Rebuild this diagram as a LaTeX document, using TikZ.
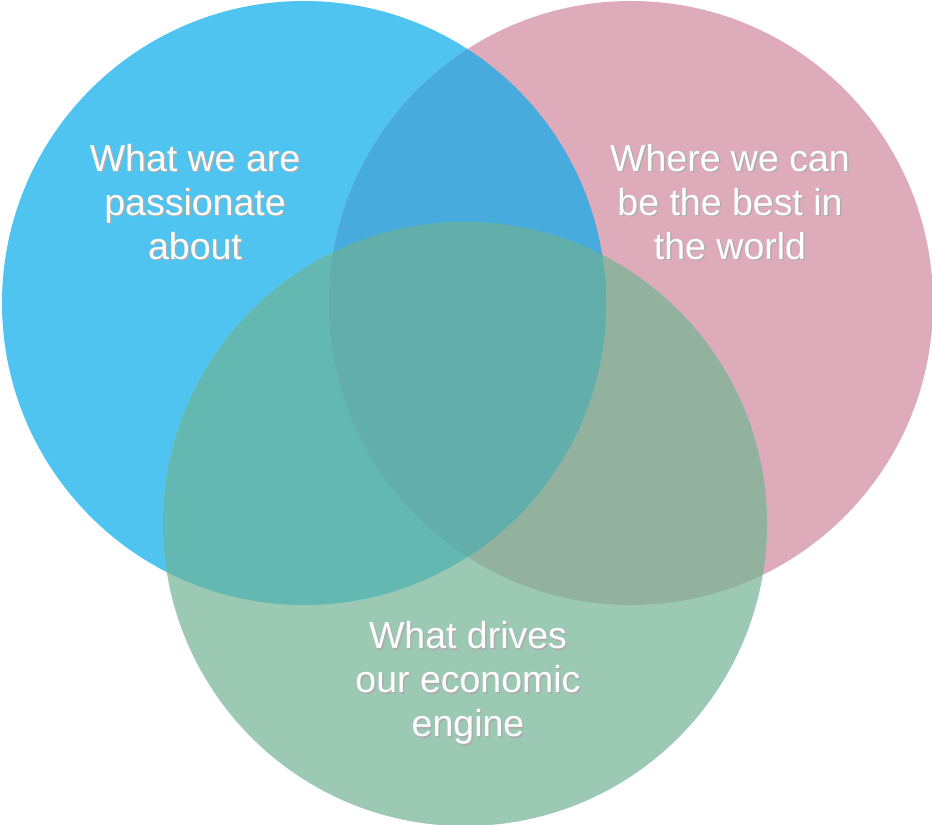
\documentclass[tikz,border=0pt]{standalone}
\usepackage{fontspec}
\setmainfont{Liberation Sans}
\definecolor{cblue}{HTML}{4FC4F0}
\definecolor{cpink}{HTML}{DEABBA}
\definecolor{cgreen}{HTML}{9BC9B4}
\definecolor{cbp}{HTML}{47ABDD}
\definecolor{cbg}{HTML}{63B8B2}
\definecolor{cpg}{HTML}{92B19E}
\definecolor{cmid}{HTML}{61AEAA}
\tikzset{
  lbl/.style={text=white,font=\fontsize{32}{37.6}\selectfont,align=center,inner sep=0pt},
  lblshadow/.style={lbl,text=black!32,xshift=1.3pt,yshift=-1.3pt}
}
\begin{document}
\begin{tikzpicture}[x=.03cm,y=-.03cm]
\useasboundingbox (0,0) rectangle (932,825);
\coordinate (b) at (304,303);
\coordinate (p) at (631,303);
\coordinate (g) at (465,524);
\fill[cblue] (b) circle (302);
\fill[cpink] (p) circle (302);
\fill[cgreen] (g) circle (302);
% overlaps
\begin{scope}
\clip (p) circle (302);
\fill[cpg] (g) circle (302);
\end{scope}
\begin{scope}
\clip (b) circle (302);
\fill[cbp] (p) circle (302);
\fill[cbg] (g) circle (302);
\clip (p) circle (302);
\fill[cmid] (g) circle (302);
\end{scope}
\foreach \n/\x/\y/\t in {passion/195/202/{What we are\\passionate\\about},
    best/730/202/{Where we can\\be the best in\\the world},
    engine/468/683/{What drives\\our economic\\engine}}{
  \node[lblshadow] (\n-s) at (\x,\y) {\t};
  \node[lbl] (\n) at (\x,\y) {\t};
}
\end{tikzpicture}
\end{document}
